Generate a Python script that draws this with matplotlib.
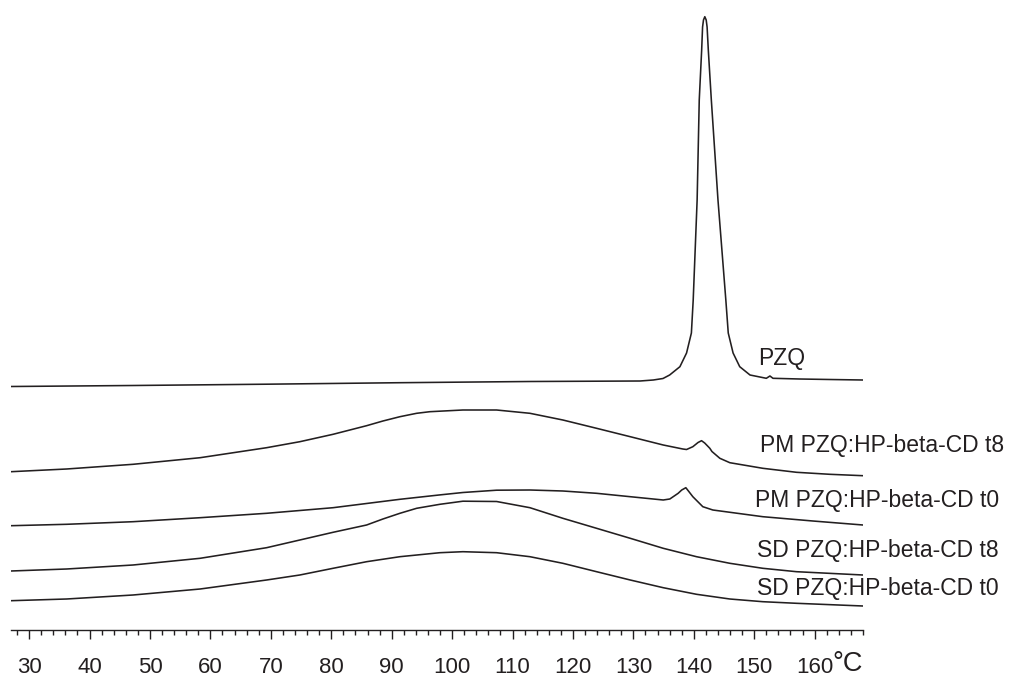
import matplotlib
matplotlib.use("Agg")
import matplotlib.pyplot as plt
from matplotlib.ticker import MultipleLocator
import numpy as np

plt.rcParams['font.family'] = ['Liberation Sans', 'DejaVu Sans']

# DSC traces, temperature (°C) vs signal (arbitrary units, stacked)
t_pzq = [27, 47.2, 69.3, 91.4, 112.9, 131.1, 133.3, 134.9, 136.0, 137.7, 138.8, 139.6,
         139.9, 140.55, 140.9, 141.3, 141.45, 141.6, 141.82, 142.05, 142.2, 142.4,
         142.9, 144.0, 145.3, 145.7, 146.5, 147.6, 149.3, 152.0, 152.6, 153.1,
         157.5, 162.5, 168]
y_pzq = [243, 244, 245.3, 246.8, 248, 248.5, 249.5, 251, 254.5, 262.8, 276.5, 296.5,
         329.5, 429.5, 529.5, 579.5, 602.5, 609.5, 612.8, 609.5, 602.5, 579.5,
         529.5, 429.5, 329.5, 296.5, 276.5, 262.8, 254.5, 251.2, 253.5, 251.2,
         250.5, 250, 249.5]

t_pm8 = [27, 36.2, 47.2, 58.3, 69.3, 74.8, 80.3, 85.85, 88.55, 91.36, 94.13, 96.32,
         101.79, 107.36, 112.88, 118.33, 123.91, 129.48, 134.94, 138.18, 138.8,
         139.84, 140.7, 141.28, 141.8, 142.65, 143.0, 144.31, 145.96, 151.42, 157.0,
         162.51, 168]
y_pm8 = [157.8, 160.5, 165.2, 171.8, 181.8, 187.8, 195.2, 203.8, 208.5, 212.8, 216.2, 217.8,
         219.5, 219.5, 216.2, 209.5, 201.2, 192.8, 184.5, 180.5, 180.0,
         182.8, 187, 188.8, 186.5, 181.2, 178, 171.2, 166.8, 161.2, 157.2,
         155.2, 153.8]

t_pm0 = [27, 36.2, 47.2, 58.3, 69.3, 80.3, 91.36, 97.98, 101.79, 107.36, 112.88,
         118.33, 123.91, 129.48, 134.94, 136.03, 137.41, 138.0, 138.68, 139.2, 139.84,
         141.49, 143.15, 151.42, 159.7, 168]
y_pm0 = [103.8, 105.2, 107.8, 111.8, 116.2, 121.8, 130.2, 134.6, 137.0, 139.3, 139.5,
         138.5, 136.2, 132.8, 129.5, 130.5, 136.2, 139.5, 141.8, 137.8, 132.8,
         122.8, 119.5, 112.8, 108.5, 104.5]

t_sd8 = [27, 36.2, 47.2, 58.3, 69.3, 74.8, 80.3, 85.85, 88.55, 91.36, 94.13, 97.98,
         101.79, 107.36, 112.88, 118.33, 123.91, 129.48, 134.94, 140.45, 145.96,
         151.42, 157.0, 168]
y_sd8 = [58.5, 60.5, 64.5, 71.2, 81.8, 89.5, 97.2, 104.5, 110.5, 116.2, 121.2, 125.2,
         128.3, 128.0, 121.8, 111.2, 101.2, 91.2, 81.2, 72.8, 66.2,
         61.2, 57.8, 54.5]

t_sd0 = [27, 36.2, 47.2, 58.3, 69.3, 74.8, 80.3, 85.85, 91.36, 97.98, 101.79,
         107.36, 112.88, 118.33, 123.91, 129.48, 134.94, 140.45, 145.96, 151.42,
         157.0, 168]
y_sd0 = [28.8, 30.5, 34.5, 40.5, 49.5, 54.5, 61.2, 67.8, 72.8, 76.8, 77.8,
         76.8, 72.8, 66.2, 57.8, 49.5, 41.8, 35.2, 30.5, 27.8,
         26.2, 23.5]

curves = [(t_pzq, y_pzq), (t_pm8, y_pm8), (t_pm0, y_pm0), (t_sd8, y_sd8), (t_sd0, y_sd0)]
labels = ["PZQ", "PM PZQ:HP-beta-CD t8", "PM PZQ:HP-beta-CD t0",
          "SD PZQ:HP-beta-CD t8", "SD PZQ:HP-beta-CD t0"]
label_xy = [(150.6, 264.5), (150.9, 177.8), (150.1, 122.8), (150.4, 72.8), (150.4, 34.5)]

fig = plt.figure(figsize=(10.11, 6.78), dpi=100)
ax = fig.add_axes([11 / 1011, 48.5 / 678, 852 / 1011, 629.5 / 678])

for (t, y) in curves:
    ax.plot(t, y, color='#231f20', lw=1.15, solid_joinstyle='round',
            solid_capstyle='round')

for lab, (lx, ly) in zip(labels, label_xy):
    ax.text(lx, ly, lab, fontsize=16.5, color='#231f20', ha='left', va='baseline')

ax.set_xlim(27, 168)
ax.set_ylim(0, 629.5)
for s in ['left', 'right', 'top']:
    ax.spines[s].set_visible(False)
ax.spines['bottom'].set_color('#231f20')
ax.spines['bottom'].set_linewidth(1.0)
ax.set_yticks([])
ax.xaxis.set_minor_locator(MultipleLocator(2))
ax.set_xticks(np.arange(30, 161, 10))
ax.tick_params(axis='x', which='major', direction='out', length=6.5, width=1.0,
               color='#231f20', labelsize=16, labelcolor='#231f20', pad=13.5)
ax.tick_params(axis='x', which='minor', direction='out', length=3.6, width=1.0,
               color='#231f20')

ax.text(162.9, -47.8, "°C", fontsize=19.5, color='#231f20', ha='left', va='bottom',
        clip_on=False)

fig.savefig("out.png", dpi=100)
